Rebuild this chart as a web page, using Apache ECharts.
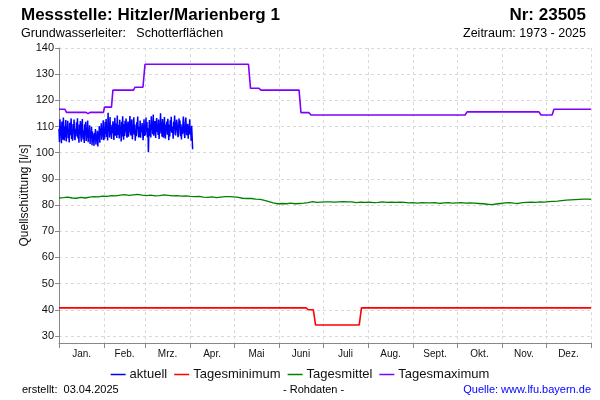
<!DOCTYPE html>
<html><head><meta charset="utf-8">
<script src="https://cdn.jsdelivr.net/npm/echarts@6/dist/echarts.min.js"></script>
<style>html,body{margin:0;padding:0;background:#fff}#c{width:600px;height:400px}</style>
</head><body><div id="c"></div><script>
// ---- data ----
const monthNames = ['Jan.','Feb.','Mrz.','Apr.','Mai','Juni','Juli','Aug.','Sept.','Okt.','Nov.','Dez.'];
const monthStarts = [0,31,59,90,120,151,181,212,243,273,304,334,365];
const yTicks = [30,40,50,60,70,80,90,100,110,120,130,140];

// Tagesmaximum (day of year, l/s)
const maxDays = [0,4.1,5.1,18.5,19.9,21.3,30.5,31.2,36,37,51.1,52.1,57.6,59,130,131.4,137.2,138.6,164.7,166,171.5,172.9,278.6,280,329.3,330.7,338.3,339.6,365];
const maxVals = [116.6,116.6,115.4,115.4,114.9,115.4,115.4,117.4,117.4,123.9,123.9,125.0,125.0,133.8,133.8,124.6,124.6,123.9,123.9,115.3,115.3,114.4,114.4,115.6,115.6,114.4,114.4,116.6,116.6];

// Tagesminimum
const minDays = [0,169.5,171,174.5,176,206,207.5,365];
const minVals = [40.7,40.7,40.0,40.0,34.2,34.2,40.7,40.7];

// Tagesmittel
const meanDays = [0,3,6,9,12,15,18,21,24,27,30,33,36,39,42,45,48,51,54,57,60,63,66,69,72,75,78,81,84,87,90,93,96,99,102,105,108,111,114,117,120,123,126,129,132,135,138,141,144,147,150,153,156,159,162,165,168,171,174,177,180,183,186,189,192,195,198,201,204,207,210,213,216,219,222,225,228,231,234,237,240,243,246,249,252,255,258,261,264,267,270,273,276,279,282,285,288,291,294,297,300,303,306,309,312,315,318,321,324,327,330,333,336,339,342,345,348,351,354,357,360,363,365];
const meanVals = [82.7,82.8,83.0,82.7,82.6,82.9,82.7,83.0,83.2,83.1,83.4,83.3,83.6,83.5,83.8,84.0,83.7,83.9,84.1,83.8,83.6,83.8,83.5,83.6,83.9,83.7,83.5,83.6,83.4,83.5,83.3,83.2,83.3,83.0,82.9,83.1,82.8,83.0,83.2,83.2,83.1,82.9,82.6,82.5,82.5,82.3,82.2,81.8,81.3,80.8,80.5,80.6,80.5,80.7,80.5,80.6,80.7,80.9,81.3,81.0,81.1,81.2,81.2,81.1,81.2,81.3,81.2,81.2,80.9,81.1,81.0,81.1,80.9,81.0,81.2,81.0,81.1,81.0,81.1,81.0,80.8,80.9,80.7,80.9,80.8,80.8,80.9,80.6,80.8,80.9,80.7,80.8,80.9,80.7,80.8,80.7,80.6,80.5,80.3,80.2,80.4,80.6,80.8,80.9,80.7,80.6,80.9,81.0,81.1,81.0,81.2,81.1,81.3,81.4,81.5,81.7,81.9,82.0,82.1,82.2,82.3,82.3,82.2];

// aktuell (raw values, 3 per day from 1 Jan)
const actualStep = 1/3;
const actualVals = [
109.2,104.1,112.8, 106.5,110.3,103.6, 111.9,107.2,105.0, 113.4,108.8,104.7, 110.1,106.0,112.5,
104.3,109.6,107.8, 112.2,105.5,108.9, 103.9,111.4,106.7, 109.8,113.1,105.2, 107.4,104.6,111.0,
108.3,112.7,105.9, 104.8,109.1,107.6, 111.6,106.2,113.2, 105.4,108.7,103.8, 110.8,107.1,112.1,
106.3,104.2,109.7, 112.9,107.8,105.1, 108.6,103.7,110.9, 106.9,111.8,104.5, 109.4,105.7,112.3,
104.0,108.2,106.4, 110.5,103.3,107.9, 105.8,109.9,102.9, 108.1,104.4,106.8, 102.6,107.5,105.3,
109.0,103.1,106.1, 104.9,108.4,102.4, 107.7,105.6,110.2, 103.8,109.3,106.6, 111.2,105.0,108.0,
106.7,112.4,104.8,
109.5,105.3,111.7, 107.2,112.9,106.0, 110.4,104.7,115.3, 108.1,111.5,105.8, 113.6,106.9,109.8,
105.2,110.7,107.4, 112.0,108.6,104.9, 109.7,113.3,106.5, 107.0,111.1,105.6, 114.2,108.3,106.8,
110.6,105.4,112.6, 107.9,109.5,104.3, 111.8,106.2,113.9, 108.8,105.0,110.9, 106.4,112.2,108.0,
113.1,107.3,105.7, 109.2,111.9,106.1, 105.5,110.3,114.0, 108.4,106.6,111.4, 112.7,105.1,109.6,
107.5,113.5,106.9, 110.8,104.6,108.7, 106.3,111.6,109.1, 113.8,107.7,105.8, 109.9,106.0,112.3,
105.7,110.1,107.8, 111.3,108.5,104.8, 107.6,112.8,106.4,
110.2,106.7,113.4, 108.0,111.7,105.9, 109.3,100.2,107.8, 112.5,106.4,110.6, 105.8,113.9,108.7,
110.9,107.1,114.6, 106.5,109.8,112.1, 108.9,105.6,111.4, 113.2,107.9,109.6, 106.8,112.7,105.2,
110.4,108.2,115.1, 107.3,111.6,106.1, 112.9,109.0,105.7, 108.5,113.6,107.0, 105.4,110.8,109.4,
111.9,106.9,113.0, 109.1,104.8,110.7, 106.2,112.4,108.3, 113.7,107.6,110.0, 108.8,105.3,111.8,
110.5,114.2,107.4, 106.6,109.7,112.6, 111.2,108.1,105.9, 107.7,113.1,109.5, 112.3,106.3,110.9,
105.1,109.9,107.2, 110.7,113.8,108.4, 107.8,105.6,111.5, 113.4,109.2,106.7, 108.6,111.0,105.3,
110.1,107.3,112.8, 106.9,109.6,104.6, 110.3,106.2,101.3
];

// ---- build ----
const zip = (xs, ys) => xs.map((x, i) => [x, ys[i]]);
const actualData = actualVals.map((v, i) => [i * actualStep, v]);
const monthMids = monthNames.map((m, i) => (monthStarts[i] + monthStarts[i + 1]) / 2);
const FONT = '"Liberation Sans", Arial, sans-serif';

const chart = echarts.init(document.getElementById('c'), null, {renderer: 'canvas'});
chart.setOption({
  animation: false,
  backgroundColor: '#fff',
  textStyle: {fontFamily: FONT},
  grid: {left: 59, right: 9, top: 48, bottom: 57},
  xAxis: {
    type: 'value', min: 0, max: 365,
    axisLine: {show: true, lineStyle: {color: '#888', width: 1}},
    axisTick: {show: true, customValues: monthStarts, length: 5, lineStyle: {color: '#888'}},
    axisLabel: {
      customValues: monthMids, margin: 6, fontSize: 10, color: '#111', fontFamily: FONT,
      formatter: (v) => { const i = monthMids.findIndex(m => Math.abs(m - v) < 0.01); return i >= 0 ? monthNames[i] : ''; }
    },
    splitLine: {show: true, lineStyle: {type: [3, 3], color: '#d9d9d9', width: 1}}
  },
  yAxis: {
    type: 'value', min: 27.3, max: 140,
    name: 'Quellschüttung [l/s]', nameLocation: 'middle', nameGap: 28, nameMoveOverlap: false,
    nameTextStyle: {fontSize: 12, color: '#111', fontFamily: FONT},
    axisLine: {show: true, lineStyle: {color: '#888', width: 1}},
    axisTick: {show: true, customValues: yTicks, length: 4, lineStyle: {color: '#888'}},
    axisLabel: {customValues: yTicks, margin: 5, fontSize: 11, color: '#111', fontFamily: FONT},
    splitLine: {show: true, lineStyle: {type: [3, 3], color: '#d9d9d9', width: 1}}
  },
  legend: {
    top: 363, left: 'center', icon: 'rect', itemWidth: 15, itemHeight: 1.5, itemGap: 7,
    textStyle: {fontSize: 13, color: '#111', fontFamily: FONT, padding: [0, 0, 0, -1]},
    data: ['aktuell', 'Tagesminimum', 'Tagesmittel', 'Tagesmaximum']
  },
  series: [
    {name: 'aktuell', type: 'line', data: actualData, symbol: 'none', color: '#0000ff', lineStyle: {width: 1.5}, z: 5},
    {name: 'Tagesminimum', type: 'line', data: zip(minDays, minVals), symbol: 'none', color: '#ff0000', lineStyle: {width: 1.6}},
    {name: 'Tagesmittel', type: 'line', data: zip(meanDays, meanVals), symbol: 'none', color: '#008000', lineStyle: {width: 1.3}},
    {name: 'Tagesmaximum', type: 'line', data: zip(maxDays, maxVals), symbol: 'none', color: '#8000ff', lineStyle: {width: 1.6}}
  ],
  graphic: [
    {type: 'text', left: 21, top: 7, style: {text: 'Messstelle: Hitzler/Marienberg 1', font: 'bold 17px ' + FONT, fill: '#000'}},
    {type: 'text', right: 14, top: 7, style: {text: 'Nr: 23505', font: 'bold 17px ' + FONT, fill: '#000'}},
    {type: 'text', left: 21, top: 27, style: {text: 'Grundwasserleiter:   Schotterflächen', font: '12.5px ' + FONT, fill: '#000'}},
    {type: 'text', right: 14, top: 27, style: {text: 'Zeitraum: 1973 - 2025', font: '12.5px ' + FONT, fill: '#000'}},
    {type: 'text', left: 22, top: 384, style: {text: 'erstellt:  03.04.2025', font: '11px ' + FONT, fill: '#000'}},
    {type: 'text', left: 283, top: 384, style: {text: '- Rohdaten -', font: '11px ' + FONT, fill: '#000'}},
    {type: 'text', right: 9, top: 384, style: {text: 'Quelle: www.lfu.bayern.de', font: '11px ' + FONT, fill: '#0000ff'}}
  ]
});
</script></body></html>
